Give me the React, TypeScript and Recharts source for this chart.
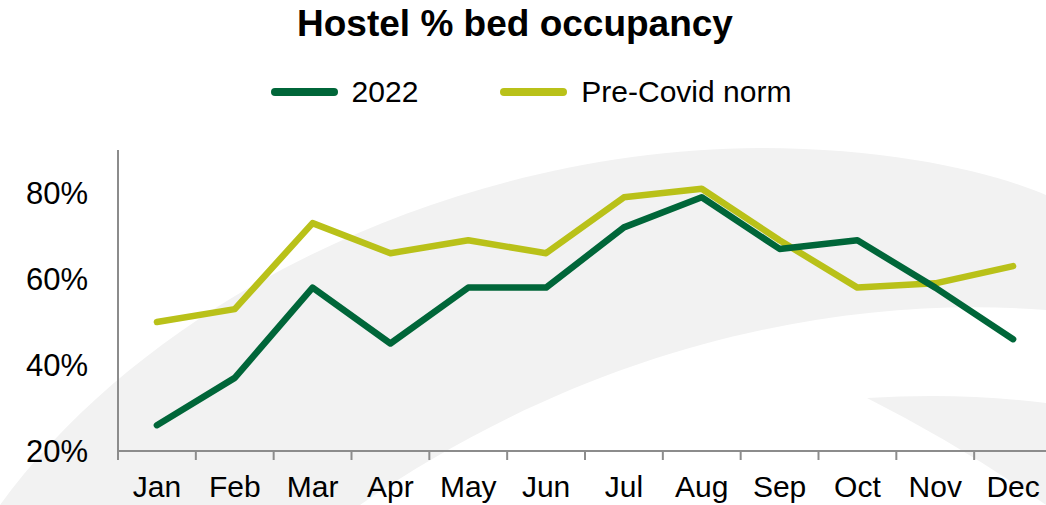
import { Line, LineChart, XAxis, YAxis } from "recharts";

const months = ["Jan", "Feb", "Mar", "Apr", "May", "Jun", "Jul", "Aug", "Sep", "Oct", "Nov", "Dec"];
const occupancy2022 = [26, 37, 58, 45, 58, 58, 72, 79, 67, 69, 58, 46];
const preCovidNorm = [50, 53, 73, 66, 69, 66, 79, 81, 69, 58, 59, 63];
const yTicks = [20, 40, 60, 80];

const DARK_GREEN = "#006639";
const LIME = "#B9C119";
const AXIS_GREY = "#8c8c8c";
const FONT = "'Liberation Sans', Arial, sans-serif";

const CHART_W = 1060;
const CHART_H = 505;
const MARGIN = { top: 150, right: 8, bottom: 0, left: 0 };
const Y_AXIS_W = 118;
const X_AXIS_H = 54;
const bandWidth = (CHART_W - MARGIN.left - MARGIN.right - Y_AXIS_W) / months.length;

const data = months.map((month, i) => ({
  month,
  y2022: occupancy2022[i],
  preCovid: preCovidNorm[i],
}));

const legendItems = [
  { label: "2022", color: DARK_GREEN },
  { label: "Pre-Covid norm", color: LIME },
];

function MonthTick(props: any) {
  const { x, y, payload } = props;
  const edge = x - bandWidth / 2;
  return (
    <g>
      <line x1={edge} y1={y} x2={edge} y2={y + 9} stroke={AXIS_GREY} strokeWidth={2} />
      <text x={x} y={y + 46} textAnchor="middle" fontSize={30} fill="#000" fontFamily={FONT}>
        {payload.value}
      </text>
    </g>
  );
}

function LegendBox() {
  return (
    <div style={{ display: "flex", justifyContent: "center", fontFamily: FONT, fontSize: 30, lineHeight: "36px" }}>
      {legendItems.map((it, i) => (
        <div key={it.label} style={{ display: "flex", alignItems: "center", marginLeft: i ? 82 : 0 }}>
          <span
            style={{
              display: "inline-block",
              width: 67,
              height: 8,
              borderRadius: 4,
              background: it.color,
              marginRight: 14,
            }}
          />
          <span>{it.label}</span>
        </div>
      ))}
    </div>
  );
}

export default function App() {
  return (
    <div style={{ position: "fixed", left: 0, top: 0, width: 1046, height: 505, overflow: "hidden", background: "#fff" }}>
      <svg width={1046} height={505} style={{ position: "absolute", left: 0, top: 0 }}>
        <path
          d="M 0 505 C 150 300, 450 150, 760 148 C 900 148, 1000 175, 1046 195 L 1046 310 C 850 295, 600 340, 360 505 Z"
          fill="#f2f2f2"
        />
        <path d="M 867 398 Q 960 392 1046 403 L 1046 505 Q 960 445 867 398 Z" fill="#f2f2f2" />
      </svg>
      <div
        style={{
          position: "absolute",
          top: 3,
          left: 0,
          width: 1030,
          textAlign: "center",
          fontFamily: FONT,
          fontWeight: "bold",
          fontSize: 37,
          lineHeight: "42px",
        }}
      >
        Hostel % bed occupancy
      </div>
      <div style={{ position: "absolute", top: 74, left: 0, width: 1062 }}>
        <LegendBox />
      </div>
      <div style={{ position: "absolute", left: 0, top: 0 }}>
        <LineChart width={CHART_W} height={CHART_H} data={data} margin={MARGIN}>
          <XAxis
            dataKey="month"
            scale="band"
            interval={0}
            axisLine={{ stroke: AXIS_GREY, strokeWidth: 2 }}
            tickLine={false}
            tickSize={0}
            tickMargin={0}
            height={X_AXIS_H}
            tick={<MonthTick />}
          />
          <YAxis
            domain={[20, 90]}
            ticks={yTicks}
            width={Y_AXIS_W}
            axisLine={{ stroke: AXIS_GREY, strokeWidth: 2 }}
            tickLine={false}
            tickSize={0}
            tickMargin={30}
            tickFormatter={(v: number) => `${v}%`}
            tick={{ fontSize: 31, fill: "#000", fontFamily: FONT }}
          />
          <Line
            type="linear"
            dataKey="preCovid"
            name="Pre-Covid norm"
            stroke={LIME}
            strokeWidth={6.5}
            strokeLinecap="round"
            strokeLinejoin="round"
            dot={false}
            isAnimationActive={false}
          />
          <Line
            type="linear"
            dataKey="y2022"
            name="2022"
            stroke={DARK_GREEN}
            strokeWidth={6.5}
            strokeLinecap="round"
            strokeLinejoin="round"
            dot={false}
            isAnimationActive={false}
          />
        </LineChart>
      </div>
    </div>
  );
}
